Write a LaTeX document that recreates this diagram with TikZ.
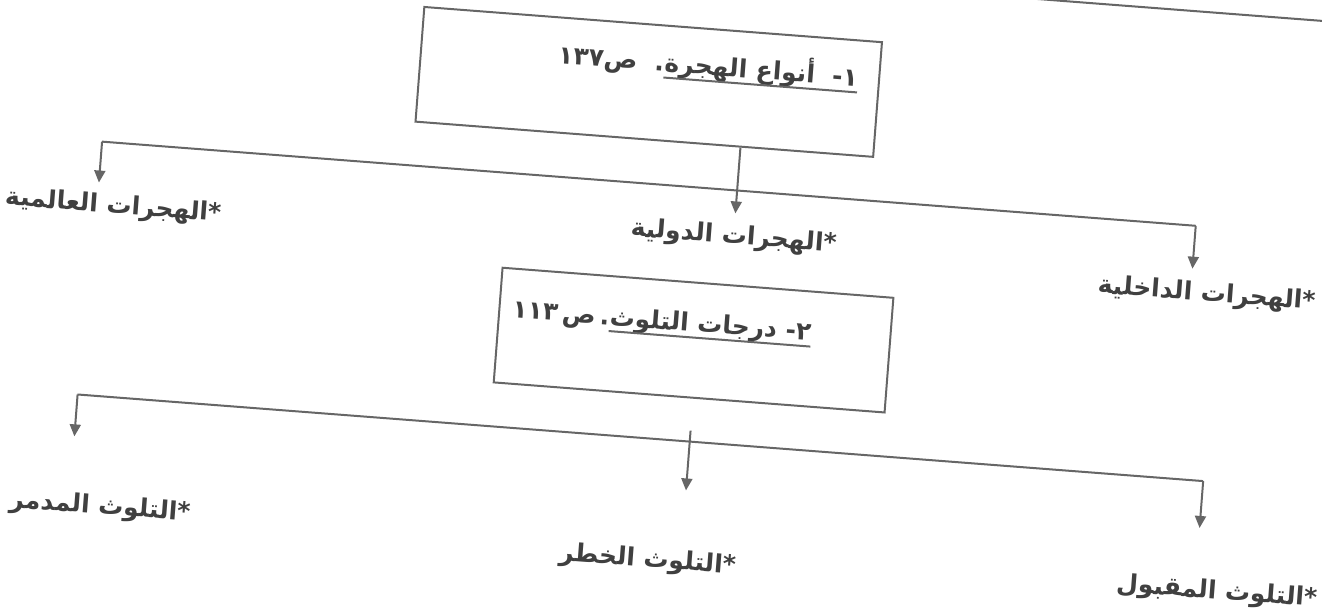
\documentclass[tikz,border=0pt]{standalone}
\usepackage{fontspec}
\usetikzlibrary{arrows.meta,calc}
\TeXXeTstate=1
\newfontfamily\arabicfont[Script=Arabic]{DejaVu Sans}
\begin{document}
\begin{tikzpicture}[x=1pt,y=-1pt,
  ln/.style={draw=black!60, line width=2pt},
  arr/.style={ln, -{Triangle[width=11pt,length=12pt]}},
  boxnode/.style={ln, inner sep=0pt},
  lbl/.style={font=\arabicfont\bfseries\fontsize{25}{30}\selectfont, text=black!75, inner sep=0pt},
]
\useasboundingbox (0,0) rectangle (1322,614);
\clip (0,0) rectangle (1322,614);
\begin{scope}[rotate around={-4.4:(661,307)}, transform shape]
  % partial box at the top right
  \draw[ln] (1003,-300) rectangle (1450,-29);
  % box 1
  \node[boxnode, minimum width=459pt, minimum height=115pt] (box1) at (631.5,83.5) {};
  \node[lbl, anchor=base east] (u1) at (840,72) {\beginR ١-\ \ أنواع الهجرة\endR};
  \node[lbl, anchor=base east] (p1) at (u1.base west) {\beginR.\ \ ص\beginL١٣٧\endL\endR};
  \draw[ln] ($(u1.base west)!6pt!-90:(u1.base east)$) -- ($(u1.base east)!6pt!90:(u1.base west)$);
  % connector 1
  \coordinate (c1L) at (91,185);
  \coordinate (c1R) at (1188,185);
  \coordinate (a1L) at (91,226);
  \coordinate (a1R) at (1188,228);
  \coordinate (a1C) at (728,208);
  \draw[ln] (c1L) -- (c1R);
  \draw[arr] (c1L) -- (a1L);
  \draw[arr] (c1R) -- (a1R);
  \draw[arr] (box1.south -| a1C) -- (a1C);
  \node[lbl] (m1) at (107,249) {\beginR *الهجرات العالمية\endR};
  \node[lbl] (m2) at (728,232) {\beginR *الهجرات الدولية\endR};
  \node[lbl] (m3) at (1204,253) {\beginR *الهجرات الداخلية\endR};
  % box 2
  \node[boxnode, minimum width=392pt, minimum height=115pt] (box2) at (696,337.5) {};
  \node[lbl, anchor=base east] (u2) at (813,329) {\beginR ٢- درجات التلوث\endR};
  \node[lbl, anchor=base east] (p2) at (u2.base west) {\beginR.\,ص\,\beginL١١٣\endL\endR};
  \draw[ln] ($(u2.base west)!6pt!-90:(u2.base east)$) -- ($(u2.base east)!6pt!90:(u2.base west)$);
  % connector 2
  \coordinate (c2L) at (86,439);
  \coordinate (c2R) at (1215,439);
  \coordinate (c2C) at (700,428);
  \coordinate (a2L) at (86,481);
  \coordinate (a2R) at (1215,486);
  \coordinate (a2C) at (700,488);
  \draw[ln] (c2L) -- (c2R);
  \draw[arr] (c2L) -- (a2L);
  \draw[arr] (c2R) -- (a2R);
  \draw[arr] (c2C) -- (a2C);
  \node[lbl] (n1) at (117,550) {\beginR *التلوث المدمر\endR};
  \node[lbl] (n2) at (667,561) {\beginR *التلوث الخطر\endR};
  \node[lbl] (n3) at (1237,549) {\beginR *التلوث المقبول\endR};
\end{scope}
\end{tikzpicture}
\end{document}
